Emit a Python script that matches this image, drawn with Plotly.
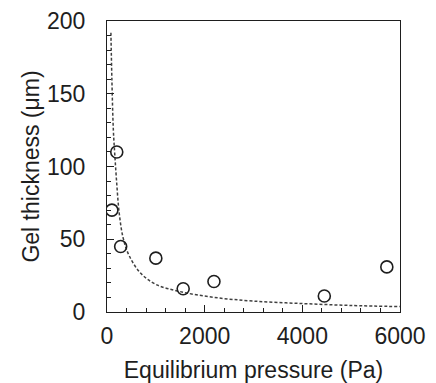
import plotly.graph_objects as go

# Measured data points
pressure_pa = [100, 200, 280, 1000, 1560, 2190, 4450, 5730]
thickness_um = [70, 110, 45, 37, 16, 21, 11, 31]

# Dashed fit curve
fit_pressure = [80, 100, 130, 160, 200, 250, 330, 450, 680, 1000, 1500, 2200, 3000, 4000, 5000, 6000]
fit_thickness = [192, 160, 125, 108, 88, 68, 51, 39, 27, 19, 14, 10, 7.5, 5.8, 4.5, 3.7]

x_ticks = [0, 2000, 4000, 6000]
y_ticks = [0, 50, 100, 150, 200]

ink = "#1e1e1e"
font = dict(family="Liberation Sans, Arial, sans-serif", size=23, color=ink)

fig = go.Figure()
fig.add_trace(go.Scatter(
    x=fit_pressure, y=fit_thickness, mode="lines",
    line=dict(color="#404040", width=1.5, dash="3px,2px", shape="spline"),
    showlegend=False, hoverinfo="skip"))
fig.add_trace(go.Scatter(
    x=pressure_pa, y=thickness_um, mode="markers",
    marker=dict(symbol="circle-open", size=12, color=ink, line=dict(width=1.6, color=ink)),
    showlegend=False))

fig.update_layout(
    width=428, height=375,
    margin=dict(l=99, r=36, t=13, b=71, autoexpand=False),
    paper_bgcolor="white", plot_bgcolor="white",
    font=font,
)
fig.update_xaxes(
    range=[0, 6000], tickvals=x_ticks, ticktext=[str(v) for v in x_ticks],
    showgrid=False, zeroline=False, automargin=False,
    showline=True, linecolor=ink, linewidth=1.2, mirror=True,
    ticks="inside", ticklen=7, tickwidth=1.2, tickcolor=ink,
    minor=dict(dtick=400, tick0=0, ticks="inside", ticklen=4, tickwidth=1, tickcolor=ink),
    ticklabelstandoff=3,
    title=dict(text="Equilibrium pressure (Pa)", standoff=18, font=font),
)
fig.update_yaxes(
    range=[0, 200], tickvals=y_ticks, ticktext=[str(v) for v in y_ticks],
    showgrid=False, zeroline=False, automargin=False,
    showline=True, linecolor=ink, linewidth=1.2, mirror=True,
    ticks="inside", ticklen=7, tickwidth=1.2, tickcolor=ink,
    minor=dict(dtick=10, tick0=0, ticks="inside", ticklen=4, tickwidth=1, tickcolor=ink),
    ticklabelstandoff=16,
    title=dict(text="Gel thickness (μm)", standoff=0, font=font),
)
fig.write_html("out.html")
